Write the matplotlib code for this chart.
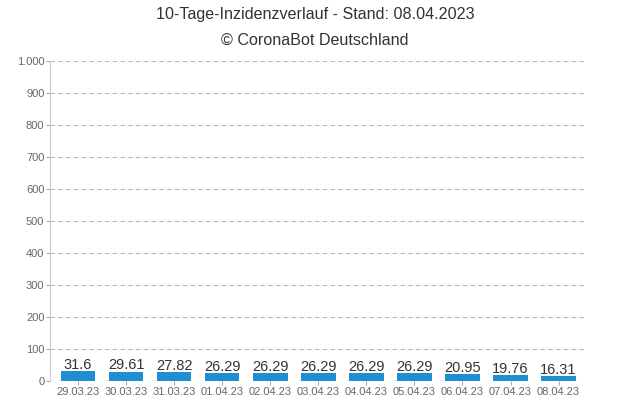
import matplotlib
matplotlib.use('Agg')
import matplotlib.pyplot as plt
from matplotlib.ticker import FuncFormatter

plt.rcParams['font.family'] = ['Liberation Sans', 'DejaVu Sans']

dates = ['29.03.23', '30.03.23', '31.03.23', '01.04.23', '02.04.23', '03.04.23',
         '04.04.23', '05.04.23', '06.04.23', '07.04.23', '08.04.23']
values = [31.6, 29.61, 27.82, 26.29, 26.29, 26.29, 26.29, 26.29, 20.95, 19.76, 16.31]
labels = ['31.6', '29.61', '27.82', '26.29', '26.29', '26.29', '26.29', '26.29', '20.95', '19.76', '16.31']
yticks = [0, 100, 200, 300, 400, 500, 600, 700, 800, 900, 1000]

fig = plt.figure(figsize=(6.3, 4), dpi=100)
ax = fig.add_axes([0.0794, 0.0475, 0.849, 0.80])

x = range(len(dates))
ax.bar(x, values, width=0.72, color='#1f8fd1', zorder=3)
for i, (v, lab) in enumerate(zip(values, labels)):
    ax.text(i, v - 3, lab, ha='center', va='bottom', fontsize=10.5, color='#333333', zorder=4)

# a little padding between the axis line and the first/last band
ax.set_xlim(-0.583, len(dates) - 0.452)
ax.set_ylim(0, 1000)
ax.set_yticks(yticks)
ax.yaxis.set_major_formatter(FuncFormatter(lambda v, p: f'{int(v):,}'.replace(',', '.')))
ax.set_xticks(list(x))
ax.set_xticklabels(dates)
ax.yaxis.grid(True, linestyle=(0, (4, 3)), color='#b8b8b8', linewidth=0.8, zorder=0)
ax.axhline(0, linestyle=(0, (4, 3)), color='#b8b8b8', linewidth=0.8, zorder=2)

for s in ['top', 'right', 'bottom']:
    ax.spines[s].set_visible(False)
ax.spines['left'].set_color('#cccccc')
ax.spines['left'].set_linewidth(0.8)
ax.tick_params(axis='y', length=3, color='#aaaaaa', labelsize=8, labelcolor='#666666', pad=1)
ax.tick_params(axis='x', length=3, color='#aaaaaa', labelsize=8, labelcolor='#666666', pad=1)

fig.text(0.5, 0.963, '10-Tage-Inzidenzverlauf - Stand: 08.04.2023', ha='center', va='center',
         fontsize=11.6, color='#333333')
fig.text(0.5, 0.898, '© CoronaBot Deutschland', ha='center', va='center',
         fontsize=11.6, color='#333333')

fig.savefig('out.png', dpi=100)
